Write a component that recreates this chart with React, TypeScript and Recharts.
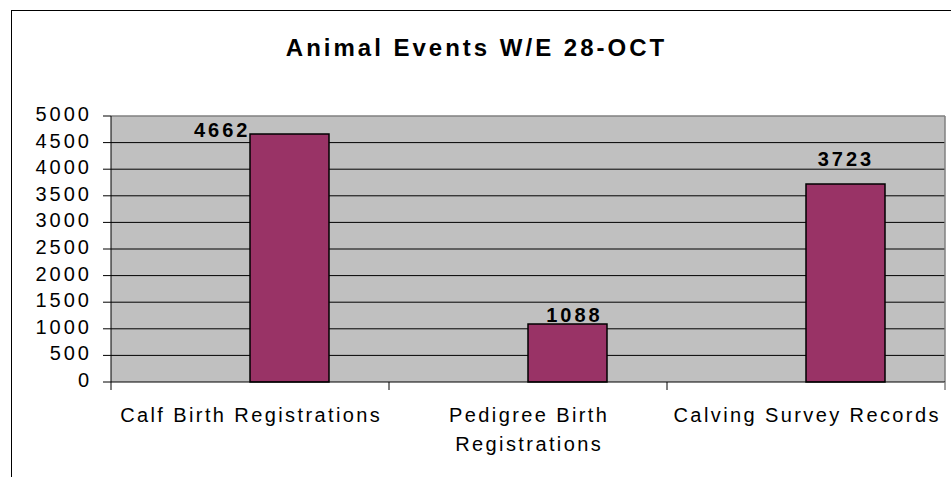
import React from 'react';
import { BarChart, Bar, XAxis, YAxis, CartesianGrid, LabelList } from 'recharts';

const chartTitle = 'Animal Events W/E 28-OCT';
const categories = ['Calf Birth Registrations', 'Pedigree Birth Registrations', 'Calving Survey Records'];
const eventCounts = [4662, 1088, 3723];
const yTicks = [0, 500, 1000, 1500, 2000, 2500, 3000, 3500, 4000, 4500, 5000];
const innerGridValues = [500, 1000, 1500, 2000, 2500, 3000, 3500, 4000, 4500];

const data = categories.map((category, i) => ({ category, blank: null, count: eventCounts[i] }));

// label placement styles relative to each bar (Excel-like manual placement)
const labelPlacement = [
  { anchor: 'end', fx: 0, dx: 0.5, dy: 3.5 },
  { anchor: 'middle', fx: 0.5, dx: 7, dy: -1.7 },
  { anchor: 'middle', fx: 0.5, dx: 0.5, dy: -17.5 },
];

const FONT = '"Liberation Sans", Arial, Helvetica, sans-serif';

const YTick = (props: any) => {
  const { x, y, payload } = props;
  return (
    <text x={x} y={y} dy={5} textAnchor="end" fontFamily={FONT} fontSize={20} letterSpacing={3} fill="#000">
      {payload.value}
    </text>
  );
};

const wrapWords = (s: string, maxChars: number) => {
  const words = s.split(' ');
  const lines: string[] = [];
  let cur = '';
  words.forEach((w) => {
    const next = cur ? cur + ' ' + w : w;
    if (next.length > maxChars && cur) {
      lines.push(cur);
      cur = w;
    } else cur = next;
  });
  if (cur) lines.push(cur);
  return lines;
};

const XTick = (props: any) => {
  const { x, y, payload, index, visibleTicksCount, width } = props;
  const half = payload && payload.offset ? payload.offset : width / (visibleTicksCount || 3) / 2;
  const lines = wrapWords(String(payload.value), 25);
  const isLast = index === (visibleTicksCount || 3) - 1;
  return (
    <g>
      <line x1={x - half} x2={x - half} y1={y} y2={y + 8} stroke="#000" strokeWidth={1} />
      {isLast && <line x1={x + half} x2={x + half} y1={y} y2={y + 8} stroke="#808080" strokeWidth={1.5} />}
      <text x={x + 1.2} y={y + 40} textAnchor="middle" fontFamily={FONT} fontSize={20} letterSpacing={2.4} fill="#000">
        {lines.map((l, i) => (
          <tspan key={i} x={x + 1.2} dy={i === 0 ? 0 : 29}>
            {l}
          </tspan>
        ))}
      </text>
    </g>
  );
};

const BarLabel = (props: any) => {
  const vb = props.viewBox || {};
  const x = props.x ?? vb.x;
  const y = props.y ?? vb.y;
  const width = props.width ?? vb.width;
  const { value, index } = props;
  const p = labelPlacement[index] || labelPlacement[2];
  return (
    <text
      x={x + width * p.fx + p.dx}
      y={y + p.dy}
      textAnchor={p.anchor as any}
      fontFamily={FONT}
      fontSize={20}
      fontWeight="bold"
      letterSpacing={3}
      fill="#000"
    >
      {value}
    </text>
  );
};

export default function App() {
  return (
    <div style={{ position: 'absolute', left: 0, top: 0, width: 951, height: 477, overflow: 'hidden', background: '#fff' }}>
      <div
        style={{
          position: 'absolute',
          left: 11,
          top: 10,
          width: 980,
          height: 500,
          borderLeft: '1px solid #000',
          borderTop: '1px solid #000',
        }}
      />
      <div
        style={{
          position: 'absolute',
          left: 0,
          top: 36,
          width: 953,
          textAlign: 'center',
          fontFamily: FONT,
          fontSize: 24,
          fontWeight: 'bold',
          letterSpacing: 3,
          lineHeight: '24px',
          color: '#000',
        }}
      >
        {chartTitle}
      </div>
      <div style={{ position: 'absolute', left: 0, top: 0 }}>
        <BarChart
          width={951}
          height={477}
          data={data}
          margin={{ top: 116, right: 6, bottom: 0, left: 0 }}
          barGap={0}
          barSize={79}
        >
          <CartesianGrid fill="#C0C0C0" fillOpacity={1} stroke="#000" vertical={false} horizontalValues={innerGridValues} />
          <CartesianGrid
            fill="none"
            stroke="#808080"
            strokeWidth={1.5}
            horizontalValues={[5000]}
            verticalCoordinatesGenerator={({ offset }: any) => [offset.left + offset.width]}
          />
          <XAxis
            dataKey="category"
            interval={0}
            height={95}
            tickSize={0}
            tickMargin={0}
            tickLine={false}
            axisLine={{ stroke: '#000', strokeWidth: 1 }}
            tick={<XTick />}
          />
          <YAxis
            width={111}
            domain={[0, 5000]}
            ticks={yTicks}
            interval={0}
            tickSize={8}
            tickMargin={11}
            axisLine={{ stroke: '#000', strokeWidth: 1 }}
            tickLine={{ stroke: '#000', strokeWidth: 1 }}
            tick={<YTick />}
          />
          <Bar dataKey="blank" fill="#9999FF" isAnimationActive={false} />
          <Bar dataKey="count" fill="#993366" stroke="#000" strokeWidth={1.5} isAnimationActive={false}>
            <LabelList dataKey="count" content={<BarLabel />} />
          </Bar>
        </BarChart>
      </div>
    </div>
  );
}
